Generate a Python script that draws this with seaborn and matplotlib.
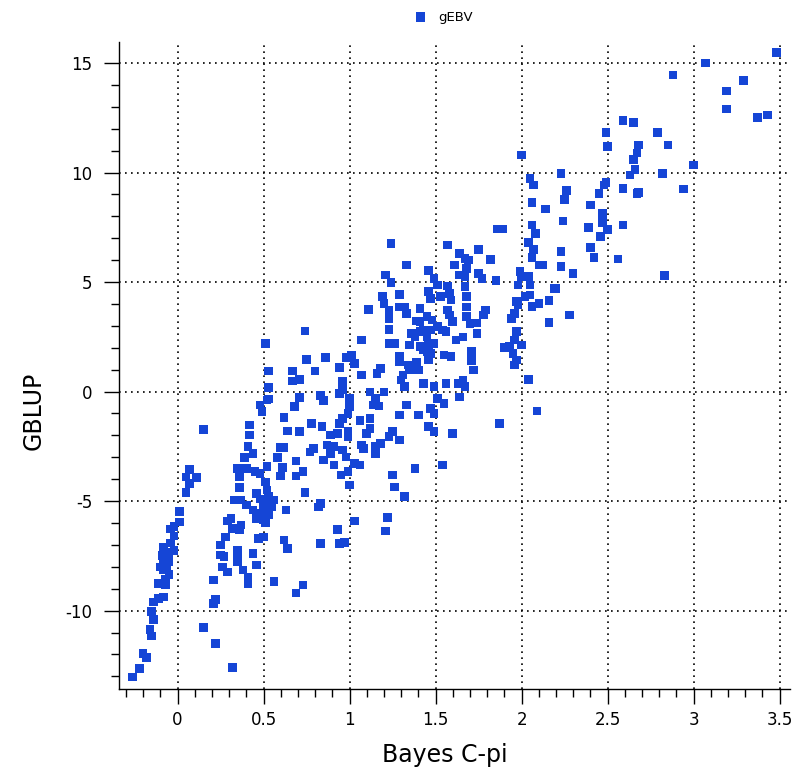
import matplotlib
matplotlib.use("Agg")
import matplotlib.pyplot as plt
from matplotlib.ticker import MultipleLocator
import seaborn as sns
import pandas as pd

# Bayes C-pi (x) and GBLUP (y) values, grouped by area
left_x = [0.07, 0.05, 0.11, 0.07, 0.05, 0.01, 0.01, -0.02, -0.04, -0.02, -0.04, -0.08, -0.02, -0.06,
          -0.09, -0.05, -0.05, -0.08, -0.06, -0.10, -0.08, -0.05, -0.07, -0.11, -0.07, -0.08, -0.11,
          -0.14, -0.15, -0.14, -0.16, -0.15, -0.20, -0.18, -0.22, -0.26,
          0.15, 0.15, 0.22, 0.32, 0.22, 0.21, 0.21]
left_y = [-3.56, -3.90, -3.92, -4.20, -4.62, -5.48, -5.96, -6.17, -6.28, -6.60, -6.92, -7.10, -7.26, -7.33,
          -7.48, -7.54, -7.75, -7.82, -8.00, -8.00, -8.15, -8.34, -8.55, -8.76, -8.84, -9.37, -9.44,
          -9.60, -10.05, -10.40, -10.85, -11.15, -11.96, -12.13, -12.65, -13.03,
          -1.73, -10.78, -11.50, -12.60, -9.49, -9.67, -8.60]

low_x = [0.42, 0.42, 0.41, 0.44, 0.39, 0.35, 0.40, 0.45, 0.48, 0.52, 0.36, 0.36, 0.51, 0.46, 0.52, 0.53,
         0.33, 0.37, 0.40, 0.44, 0.48, 0.52, 0.56, 0.55, 0.50, 0.46, 0.50, 0.48, 0.53, 0.51, 0.63, 0.31,
         0.29, 0.32, 0.36, 0.37, 0.28, 0.25, 0.25, 0.27, 0.35, 0.35, 0.35, 0.44, 0.46, 0.26, 0.29, 0.38,
         0.41, 0.41, 0.50, 0.47, 0.62, 0.64, 0.56, 0.69, 0.73, 0.48, 0.49, 0.52, 0.62, 0.64, 0.69, 0.69,
         0.58, 0.60, 0.62, 0.61, 0.60]
low_y = [-1.53, -1.99, -2.52, -2.82, -3.00, -3.51, -3.51, -3.66, -3.74, -3.43, -3.89, -4.37, -4.12, -4.65,
         -4.50, -4.80, -4.95, -4.95, -5.18, -5.41, -5.56, -5.10, -4.95, -5.26, -5.87, -5.79, -5.30, -4.90,
         -5.60, -6.00, -5.41, -5.79, -5.90, -6.25, -6.32, -6.10, -6.63, -7.00, -7.47, -7.54, -7.24, -7.54,
         -7.77, -7.39, -7.92, -8.00, -8.23, -8.15, -8.46, -8.76, -6.63, -6.70, -6.78, -7.16, -8.68, -9.20,
         -8.84, -0.62, -0.92, -0.39, -1.18, -1.80, -3.16, -3.86, -3.00, -2.55, -2.55, -3.46, -3.86]

mid_x = [0.74, 0.51, 0.75, 0.86, 0.98, 0.53, 0.67, 0.80, 0.94, 0.67, 0.71, 0.53, 0.53, 0.71, 0.83, 0.85,
         0.68, 0.96, 0.96, 0.94,
         1.00, 1.12, 1.15, 1.20, 1.14, 1.17, 1.00, 0.99, 0.96, 0.94, 1.06, 1.12, 1.12, 1.10, 0.99, 0.99,
         0.93, 0.89, 0.84, 0.78, 0.71, 0.87, 0.91, 0.79, 0.77, 0.85, 0.89, 0.91, 0.96, 0.98, 1.03, 1.06,
         0.99, 0.95, 1.07, 1.08, 1.15, 1.18, 1.23, 1.25, 1.29, 1.15, 1.29, 0.73, 0.74, 0.83, 0.82, 1.00,
         1.25, 1.26, 1.32, 1.38, 1.54, 1.03, 1.22, 1.21, 0.93, 0.83, 0.94, 0.97, 1.64, 1.51, 1.55, 1.47,
         1.49, 1.46, 1.49, 1.60, 1.40, 1.33]
mid_y = [2.76, 2.20, 1.47, 1.56, 1.56, 0.94, 0.94, 0.94, 1.10, 0.48, 0.56, 0.19, -0.34, -0.27, -0.19, -0.42,
         -0.69, 0.45, 0.07, -0.08,
         -0.31, -0.01, -0.31, -0.01, -0.62, -0.66, -0.69, -1.00, -1.22, -1.45, -1.33, -1.22, -1.68, -1.91,
         -1.83, -2.06, -1.91, -1.99, -1.60, -1.45, -1.83, -2.44, -2.52, -2.59, -2.75, -3.13, -2.82, -3.36,
         -2.67, -2.98, -3.28, -3.36, -3.66, -3.81, -2.44, -2.59, -2.52, -2.37, -2.06, -1.83, -2.21, -2.85,
         -1.07, -3.66, -4.62, -5.10, -5.26, -4.27, -3.81, -4.35, -4.80, -3.51, -3.36, -5.90, -5.75, -6.37,
         -6.29, -6.93, -6.93, -6.90, -0.24, -0.31, -0.54, -0.77, -1.00, -1.60, -1.83, -1.91, -1.07, -0.62]

up_x = [1.24, 1.57, 1.75, 1.64, 1.67, 1.69, 1.82, 1.33, 1.46, 1.61, 1.68, 1.64, 1.75, 1.77, 1.85, 1.21,
        1.24, 1.49, 1.51, 1.29, 1.19, 1.20, 1.11, 1.23, 1.23, 1.23, 1.29, 1.32, 1.33, 1.41, 1.41, 1.39,
        1.45, 1.46, 1.47, 1.53, 1.57, 1.58, 1.59, 1.57, 1.58, 1.60, 1.67, 1.67, 1.68, 1.68, 1.68, 1.70,
        1.74, 1.79, 1.78, 1.74, 1.66, 1.62, 1.56, 1.54, 1.51, 1.48, 1.47, 1.43, 1.36, 1.41, 1.38, 1.45,
        1.46, 1.43, 1.49, 1.41, 1.35, 1.23, 1.26, 1.07, 1.29, 1.29, 1.34, 1.35, 1.31, 1.30, 1.39, 1.40,
        1.47, 1.45, 1.46, 1.55, 1.59, 1.71, 1.71, 1.72, 1.66, 1.67, 1.63, 1.56, 1.43, 1.49, 1.32, 1.01,
        1.03, 1.07, 1.16, 1.18]
up_y = [6.77, 6.69, 6.49, 6.31, 6.08, 6.00, 6.04, 5.78, 5.52, 5.78, 5.63, 5.32, 5.40, 5.17, 5.06, 5.32,
        4.97, 5.17, 4.86, 4.44, 4.33, 4.03, 3.75, 3.72, 3.34, 2.84, 3.87, 3.87, 3.57, 3.80, 3.19, 3.23,
        3.42, 4.56, 4.25, 4.33, 4.82, 4.48, 4.18, 3.72, 3.49, 3.19, 5.24, 4.79, 4.33, 3.87, 3.42, 3.11,
        3.14, 3.72, 3.49, 2.66, 2.50, 2.35, 2.73, 2.81, 2.96, 3.26, 2.81, 2.81, 2.66, 2.73, 2.50, 2.50,
        2.12, 1.89, 2.20, 2.05, 2.12, 2.20, 2.20, 2.35, 1.59, 1.36, 1.21, 0.98, 0.75, 0.52, 1.36, 0.98,
        1.74, 1.82, 1.44, 1.67, 1.59, 1.82, 1.41, 0.98, 0.52, 0.22, 0.37, 0.37, 0.37, 0.22, 0.22, 1.67,
        1.29, 0.75, 0.83, 1.06]

col_x = [2.00, 2.05, 2.07, 2.06, 2.14, 1.86, 1.89, 2.06, 2.08, 2.04, 2.07, 2.06, 2.10, 2.12, 1.99, 2.00,
         2.04, 2.05, 1.98, 2.02, 2.05, 1.97, 1.98, 1.96, 1.94, 2.06, 2.10, 2.16, 2.19, 2.20, 2.28, 2.16,
         1.97, 1.96, 1.93, 2.00, 1.95, 1.97, 1.96, 2.04, 2.09, 1.87, 1.90]
col_y = [10.80, 9.74, 9.43, 8.63, 8.34, 7.42, 7.42, 7.60, 7.22, 6.80, 6.49, 6.13, 5.78, 5.78, 5.47, 5.25,
         5.25, 4.87, 4.87, 4.33, 4.41, 4.10, 3.95, 3.57, 3.34, 3.88, 4.03, 4.15, 4.71, 4.71, 3.50, 3.15,
         2.73, 2.35, 2.05, 2.13, 1.75, 1.44, 1.21, 0.56, -0.89, -1.45, 2.00]

top_x = [3.48, 3.07, 2.88, 3.29, 3.19, 3.19, 3.37, 3.43, 2.59, 2.65, 2.49, 2.79, 2.50, 2.85, 2.68, 2.67,
         2.65, 2.66, 2.63, 2.82, 3.00, 2.23, 2.49, 2.48, 2.59, 2.67, 2.68, 2.94, 2.26, 2.25, 2.45, 2.40,
         2.47, 2.47, 2.50, 2.59, 2.24, 2.39, 2.46, 2.40, 2.42, 2.56, 2.30, 2.23, 2.23, 2.83]
top_y = [15.47, 15.01, 14.45, 14.19, 13.72, 12.90, 12.52, 12.63, 12.37, 12.28, 11.82, 11.82, 11.18, 11.26,
         11.26, 10.90, 10.60, 10.14, 9.89, 9.96, 10.34, 9.96, 9.54, 9.43, 9.26, 9.05, 9.08, 9.25, 9.17,
         8.77, 9.05, 8.51, 8.13, 7.71, 7.40, 7.60, 7.79, 7.50, 7.07, 6.58, 6.13, 6.05, 5.40, 6.39, 5.70,
         5.30]

bayes_cpi = left_x + low_x + mid_x + up_x + col_x + top_x
gblup = left_y + low_y + mid_y + up_y + col_y + top_y
series_name = "gEBV"
x_ticks = [0, 0.5, 1, 1.5, 2, 2.5, 3, 3.5]
x_tick_labels = ["0", "0.5", "1", "1.5", "2", "2.5", "3", "3.5"]
y_ticks = [-10, -5, 0, 5, 10, 15]
y_tick_labels = ["-10", "-5", "0", "5", "10", "15"]

df = pd.DataFrame({"Bayes C-pi": bayes_cpi, "GBLUP": gblup})

fig = plt.figure(figsize=(8.03, 7.79), dpi=100)
ax = fig.add_axes([0.1482, 0.1155, 0.8356, 0.8306])

blue = "#1545d6"
sns.scatterplot(data=df, x="Bayes C-pi", y="GBLUP", marker="s", s=38, color=blue,
                edgecolor="none", linewidth=0, label=series_name, ax=ax, zorder=3)

ax.set_xlim(-0.34, 3.56)
ax.set_ylim(-13.58, 15.96)
ax.set_xticks(x_ticks)
ax.set_xticklabels(x_tick_labels)
ax.set_yticks(y_ticks)
ax.set_yticklabels(y_tick_labels)
ax.xaxis.set_minor_locator(MultipleLocator(0.1))
ax.yaxis.set_minor_locator(MultipleLocator(1))

ax.grid(True, which="major", color="black", linestyle=(0, (1, 2.6)), linewidth=1.2, zorder=1)
ax.set_axisbelow(True)

for s in ["top", "right"]:
    ax.spines[s].set_visible(False)
for s in ["left", "bottom"]:
    ax.spines[s].set_color("black")
    ax.spines[s].set_linewidth(1.0)

ax.tick_params(axis="both", which="major", direction="out", length=11, width=1.0, labelsize=12,
               colors="black")
ax.tick_params(axis="both", which="minor", direction="out", length=6, width=1.0, colors="black")
ax.tick_params(axis="x", which="major", pad=5)
ax.tick_params(axis="y", which="major", pad=8)

ax.set_xlabel("Bayes C-pi", fontsize=17)
ax.set_ylabel("GBLUP", fontsize=17)
ax.xaxis.set_label_coords(0.486, -0.084)
ax.yaxis.set_label_coords(-0.109, 0.43)

leg = ax.legend(loc="center", bbox_to_anchor=(0.548, 0.978), bbox_transform=fig.transFigure,
                frameon=False, fontsize=9.5, handletextpad=0.3, markerscale=1.1, borderpad=0)

fig.savefig("out.png", dpi=100)
